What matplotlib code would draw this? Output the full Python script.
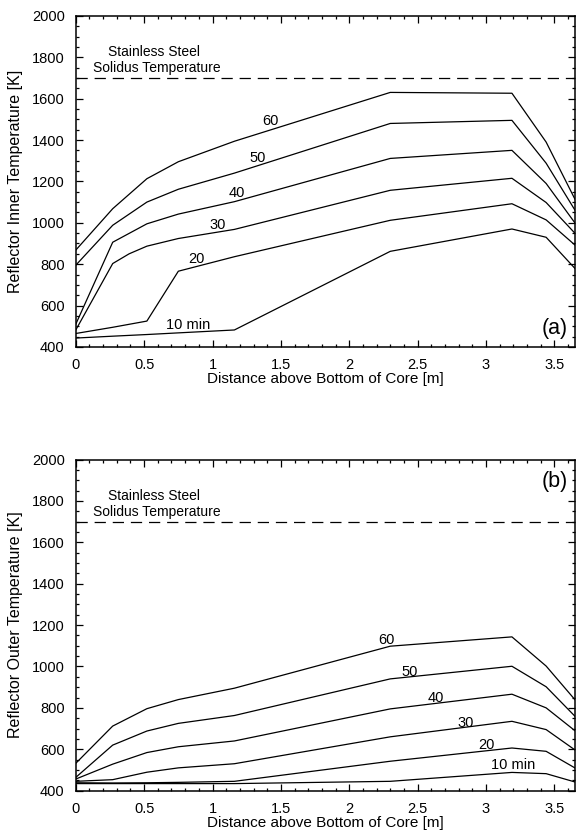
import numpy as np
import matplotlib
matplotlib.use("Agg")
import matplotlib.pyplot as plt
from matplotlib.ticker import MultipleLocator

plt.rcParams['font.family'] = ['Liberation Sans', 'DejaVu Sans']

# axial positions of the data points [m]
x_pts = [0, 0.27, 0.52, 0.75, 1.16, 2.3, 3.19, 3.44, 3.65]
x_a30 = [0, 0.27, 0.39, 0.52, 0.75, 1.16, 2.3, 3.19, 3.44, 3.65]

# (a) reflector inner temperature [K]
inner_60 = [868, 1068, 1213, 1295, 1394, 1630, 1626, 1390, 1115]
inner_50 = [795, 988, 1100, 1162, 1240, 1480, 1495, 1288, 1062]
inner_40 = [510, 906, 995, 1042, 1102, 1311, 1350, 1190, 1000]
inner_30 = [482, 803, 850, 887, 924, 968, 1157, 1215, 1098, 950]
inner_20 = [465, 495, 525, 766, 836, 1012, 1092, 1014, 893]
inner_10 = [443, 452, 460, 468, 482, 862, 970, 930, 780]

# (b) reflector outer temperature [K]
outer_60 = [532, 712, 796, 840, 895, 1098, 1143, 1002, 840]
outer_50 = [464, 620, 688, 725, 763, 940, 1001, 902, 760]
outer_40 = [456, 528, 584, 612, 640, 795, 866, 800, 690]
outer_30 = [445, 453, 489, 510, 530, 660, 735, 695, 597]
outer_20 = [438, 437, 438, 440, 445, 542, 606, 590, 510]
outer_10 = [434, 434, 434, 434, 434, 445, 488, 482, 442]

solidus = 1700

# curve label positions (x, T)
labels_a = {'60': (1.42, 1490), '50': (1.33, 1315), '40': (1.18, 1145),
            '30': (1.04, 988), '20': (0.88, 826), '10 min': (0.82, 508)}
labels_b = {'60': (2.27, 1130), '50': (2.44, 972), '40': (2.63, 848),
            '30': (2.85, 727), '20': (3.0, 622), '10 min': (3.2, 526)}

fig = plt.figure(figsize=(5.83, 8.34), dpi=100)
ax1 = fig.add_axes([0.130, 0.584, 0.856, 0.397])
ax2 = fig.add_axes([0.130, 0.052, 0.856, 0.397])


def style(ax, ylabel, tag, tag_y):
    ax.set_xlim(0, 3.65)
    ax.set_ylim(400, 2000)
    ax.xaxis.set_major_locator(MultipleLocator(0.5))
    ax.xaxis.set_minor_locator(MultipleLocator(0.1))
    ax.yaxis.set_major_locator(MultipleLocator(200))
    ax.yaxis.set_minor_locator(MultipleLocator(50))
    ax.set_xticks([0, 0.5, 1, 1.5, 2, 2.5, 3, 3.5])
    ax.set_xticklabels(['0', '0.5', '1', '1.5', '2', '2.5', '3', '3.5'])
    ax.tick_params(which='both', direction='in', top=True, right=True,
                   labelsize=10.5, width=0.9)
    ax.tick_params(which='major', length=5, pad=8)
    ax.tick_params(which='minor', length=2.5)
    for s in ax.spines.values():
        s.set_linewidth(1.1)
    ax.set_xlabel('Distance above Bottom of Core [m]', fontsize=11, labelpad=0)
    ax.set_ylabel(ylabel, fontsize=11.5, labelpad=6)
    ax.axhline(solidus, color='black', lw=0.9, dashes=(9, 5.5))
    ax.text(0.57, 1825, 'Stainless Steel', ha='center', va='center', fontsize=10)
    ax.text(0.59, 1748, 'Solidus Temperature', ha='center', va='center', fontsize=10)
    ax.text(3.5, tag_y, tag, ha='center', va='center', fontsize=15.5)


ax1.plot(x_pts, inner_60, 'k-', lw=0.9)
ax1.plot(x_pts, inner_50, 'k-', lw=0.9)
ax1.plot(x_pts, inner_40, 'k-', lw=0.9)
ax1.plot(x_a30, inner_30, 'k-', lw=0.9)
ax1.plot(x_pts, inner_20, 'k-', lw=0.9)
ax1.plot(x_pts, inner_10, 'k-', lw=0.9)
for k, (xx, yy) in labels_a.items():
    ax1.text(xx, yy, k, ha='center', va='center', fontsize=10.5)
style(ax1, 'Reflector Inner Temperature [K]', '(a)', 490)

ax2.plot(x_pts, outer_60, 'k-', lw=0.9)
ax2.plot(x_pts, outer_50, 'k-', lw=0.9)
ax2.plot(x_pts, outer_40, 'k-', lw=0.9)
ax2.plot(x_pts, outer_30, 'k-', lw=0.9)
ax2.plot(x_pts, outer_20, 'k-', lw=0.9)
ax2.plot(x_pts, outer_10, 'k-', lw=0.9)
for k, (xx, yy) in labels_b.items():
    ax2.text(xx, yy, k, ha='center', va='center', fontsize=10.5)
style(ax2, 'Reflector Outer Temperature [K]', '(b)', 1895)

fig.savefig('out.png', dpi=100)
